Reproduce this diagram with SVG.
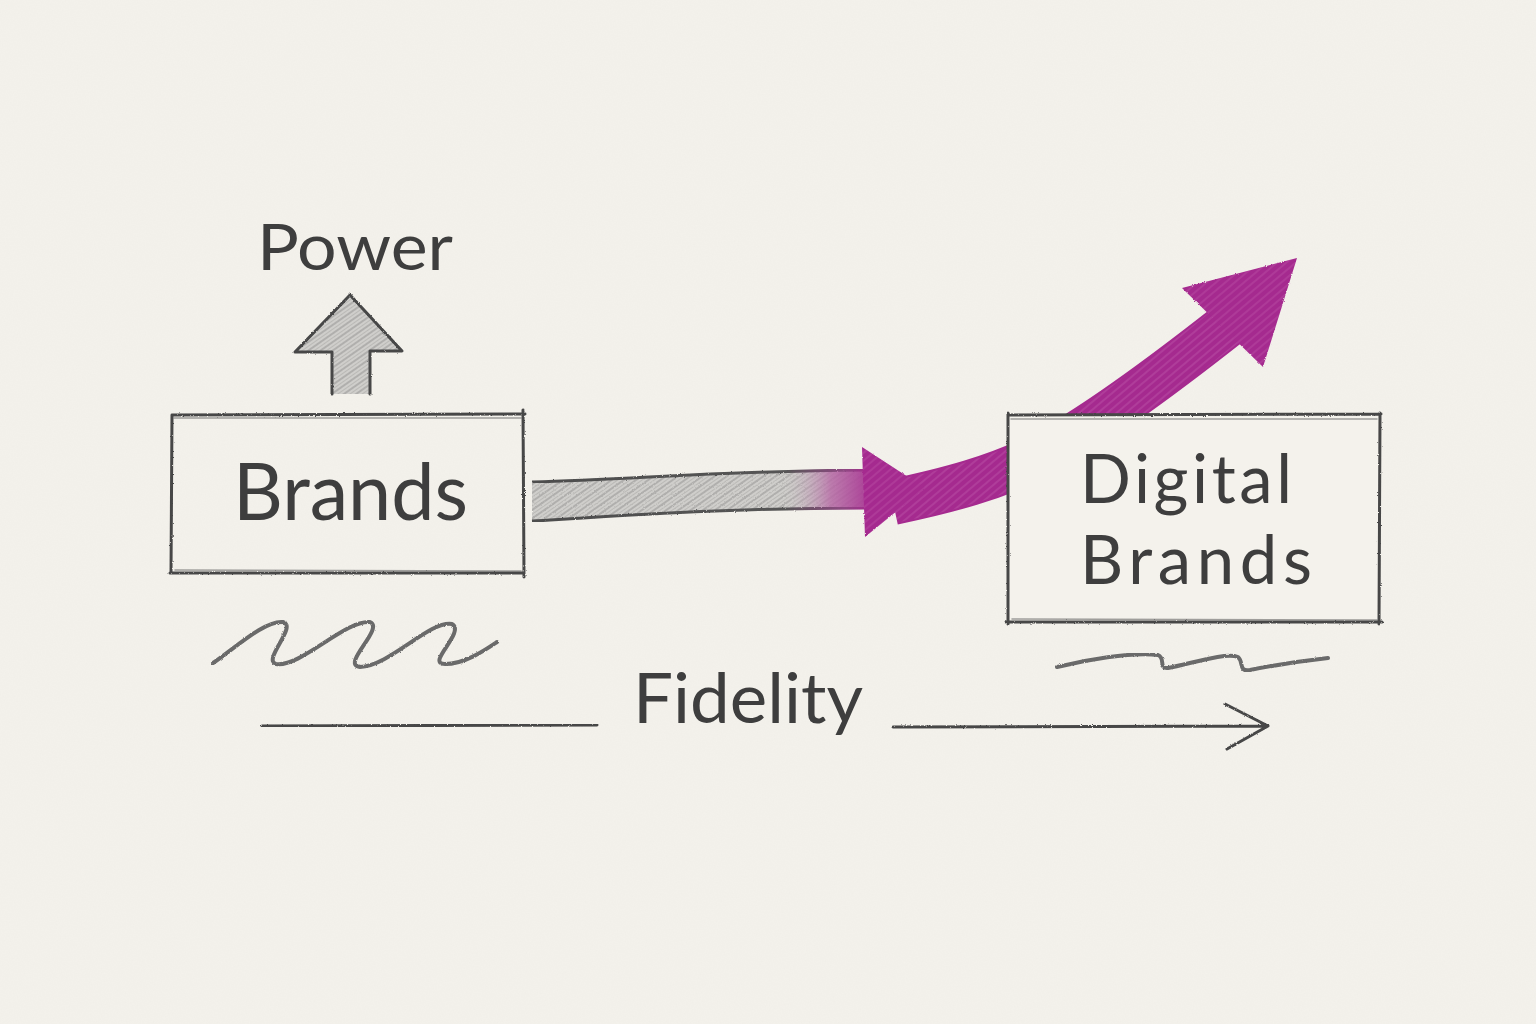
<svg xmlns="http://www.w3.org/2000/svg" width="1536" height="1024" viewBox="0 0 1536 1024">
  <style>
    .paper { fill: #f4f2ec; }
    .pencil { fill: none; stroke: #474747; stroke-width: 3; stroke-linecap: round; stroke-linejoin: round; }
    .pencil-soft { fill: none; stroke: #5a5a5a; stroke-width: 1.6; stroke-linecap: round; opacity: 0.55; }
    .squiggle { fill: none; stroke: #6a6a6a; stroke-width: 4; stroke-linecap: round; stroke-linejoin: round; }
    .label { font-family: Lato, "Noto Sans", "Liberation Sans", sans-serif; fill: #3e3e3e; font-weight: 400; }
    .box { fill: #f4f2ec; }
    .magenta { fill: #a52a8f; }
  </style>
  <defs>
    <filter id="rough" x="-5%" y="-5%" width="110%" height="110%">
      <feTurbulence type="fractalNoise" baseFrequency="0.9" numOctaves="2" seed="3" result="n"/>
      <feDisplacementMap in="SourceGraphic" in2="n" scale="2.2" xChannelSelector="R" yChannelSelector="G"/>
    </filter>
    <filter id="grain" x="0" y="0" width="100%" height="100%">
      <feTurbulence type="fractalNoise" baseFrequency="0.75" numOctaves="2" seed="8" result="t"/>
      <feColorMatrix in="t" type="matrix" values="0 0 0 0 0.45  0 0 0 0 0.43  0 0 0 0 0.40  0 0 0 0.05 0"/>
    </filter>
    <pattern id="grayHatch" patternUnits="userSpaceOnUse" width="7" height="7" patternTransform="rotate(-35)">
      <rect width="7" height="7" fill="#cfcecb"/>
      <line x1="0" y1="2" x2="7" y2="2" stroke="#a3a2a0" stroke-width="1.4"/>
      <line x1="0" y1="5.5" x2="7" y2="5.5" stroke="#bab9b6" stroke-width="1"/>
    </pattern>
    <pattern id="magHatch" patternUnits="userSpaceOnUse" width="6" height="6" patternTransform="rotate(-40)">
      <line x1="0" y1="2" x2="6" y2="2" stroke="#d88bc8" stroke-width="1.1"/>
    </pattern>
    <linearGradient id="shaftFade" gradientUnits="userSpaceOnUse" x1="530" y1="0" x2="880" y2="0">
      <stop offset="0" stop-color="#c6c5c2" stop-opacity="0"/>
      <stop offset="0.72" stop-color="#c6c5c2" stop-opacity="0"/>
      <stop offset="0.86" stop-color="#b867a6" stop-opacity="0.8"/>
      <stop offset="1" stop-color="#a52a8f" stop-opacity="1"/>
    </linearGradient>
    <linearGradient id="edgeFade" gradientUnits="userSpaceOnUse" x1="530" y1="0" x2="870" y2="0">
      <stop offset="0" stop-color="#4d4d4d"/>
      <stop offset="0.75" stop-color="#555555"/>
      <stop offset="0.92" stop-color="#8e4a82"/>
      <stop offset="1" stop-color="#a52a8f"/>
    </linearGradient>
  </defs>

  <rect class="paper" x="0" y="0" width="1536" height="1024"/>
  <rect x="0" y="0" width="1536" height="1024" filter="url(#grain)"/>

  <g id="connectors">
    <!-- magenta curved arrow (passes behind Digital Brands box) -->
    <g id="edge-growth">
      <path d="M 893 502 C 940 492, 1000 478, 1050 450 C 1100 422, 1170 370, 1226 326" fill="none" stroke="#a52a8f" stroke-width="46"/>
      <path d="M 893 502 C 940 492, 1000 478, 1050 450 C 1100 422, 1170 370, 1226 326" fill="none" stroke="url(#magHatch)" stroke-width="42" opacity="0.35"/>
      <polygon class="magenta" points="1182,288 1297,258 1263,367" filter="url(#rough)"/>
      <polygon points="1182,288 1297,258 1263,367" fill="url(#magHatch)" opacity="0.3"/>
    </g>
    <!-- gray shaft from Brands to Digital Brands -->
    <g id="edge-brands-digital">
      <path d="M 532 482 C 640 479, 720 471, 866 470 L 866 508 C 740 508, 650 514, 532 521 Z" fill="url(#grayHatch)" filter="url(#rough)"/>
      <path d="M 532 482 C 640 479, 720 471, 866 470 L 866 508 C 740 508, 650 514, 532 521 Z" fill="url(#shaftFade)"/>
      <path d="M 532 482 C 640 479, 720 471, 866 470" fill="none" stroke="url(#edgeFade)" stroke-width="3" filter="url(#rough)"/>
      <path d="M 532 521 C 650 514, 740 508, 866 508" fill="none" stroke="url(#edgeFade)" stroke-width="3" filter="url(#rough)"/>
      <polygon class="magenta" points="862,447 925,488 865,537" filter="url(#rough)"/>
      <polygon points="862,447 925,488 865,537" fill="url(#magHatch)" opacity="0.3"/>
    </g>
    <!-- Power up arrow -->
    <g id="edge-power">
      <path d="M 332 394 L 332 352 L 295 352 L 350 295 L 402 351 L 370 351 L 370 394 Z" fill="url(#grayHatch)"/>
      <path class="pencil" d="M 332 394 L 332 352 L 295 352 L 350 295 L 402 351 L 370 351 L 370 394" filter="url(#rough)"/>
    </g>
    <!-- Fidelity axis -->
    <g id="edge-fidelity">
      <path class="pencil" d="M 262 726 L 597 725" filter="url(#rough)"/>
      <path class="pencil" d="M 893 727 L 1268 726 M 1225 704 L 1268 726 L 1227 749" filter="url(#rough)"/>
    </g>
  </g>

  <g id="node-brands">
    <path class="pencil" d="M 172 415 L 525 414 M 172 415 L 171 573 M 170 573 L 524 573 M 523 410 L 524 577" filter="url(#rough)"/>
    <path class="pencil-soft" d="M 174 418 L 521 418 M 175 570 L 521 571"/>
    <text class="label" x="233" y="520" font-size="80" textLength="235" lengthAdjust="spacingAndGlyphs">Brands</text>
  </g>

  <g id="node-digital-brands">
    <rect class="box" x="1008" y="415" width="372" height="207"/>
    <path class="pencil" d="M 1008 415 L 1381 414 M 1008 413 L 1008 624 M 1006 622 L 1382 622 M 1380 413 L 1379 624" filter="url(#rough)"/>
    <path class="pencil-soft" d="M 1011 419 L 1377 419 M 1012 619 L 1377 620"/>
    <text class="label" x="1080" y="503" font-size="67" textLength="212" lengthAdjust="spacing">Digital</text>
    <text class="label" x="1080" y="584" font-size="67" textLength="232" lengthAdjust="spacing">Brands</text>
  </g>

  <g id="label-power">
    <text class="label" x="257" y="270" font-size="64" textLength="196" lengthAdjust="spacingAndGlyphs">Power</text>
  </g>

  <g id="label-fidelity">
    <text class="label" x="633" y="723" font-size="70" textLength="230" lengthAdjust="spacingAndGlyphs">Fidelity</text>
  </g>

  <g id="squiggles">
    <path class="squiggle" d="M 213 663 C 235 648, 265 620, 283 622 C 298 626, 262 660, 276 664 C 300 668, 345 620, 370 622 C 385 628, 340 665, 360 667 C 390 666, 430 620, 452 624 C 466 632, 425 664, 445 664 C 465 664, 485 650, 497 642" filter="url(#rough)"/>
    <path class="squiggle" d="M 1057 667 C 1085 660, 1130 652, 1158 655 C 1166 658, 1158 669, 1168 668 C 1190 664, 1225 652, 1238 657 C 1244 662, 1238 672, 1250 670 C 1280 664, 1310 660, 1328 658" filter="url(#rough)"/>
  </g>
</svg>
